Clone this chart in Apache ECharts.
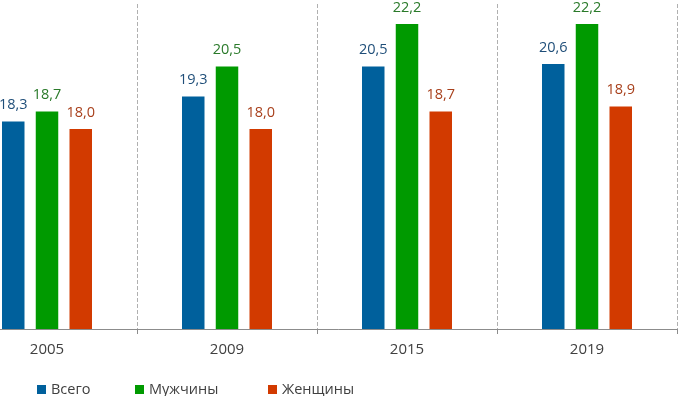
<!DOCTYPE html>
<html>
<head>
<meta charset="utf-8">
<script src="https://cdn.jsdelivr.net/npm/echarts@6/dist/echarts.min.js"></script>
<style>
  html, body { margin: 0; padding: 0; background: #fff; }
  #chart { width: 679px; height: 396px; }
</style>
</head>
<body>
<div id="chart"></div>
<script>
// data
const years = ['2005', '2009', '2015', '2019'];
const total = [18.3, 19.3, 20.5, 20.6];
const men = [18.7, 20.5, 22.2, 22.2];
const women = [18.0, 18.0, 18.7, 18.9];

const seriesNames = ['Всего', 'Мужчины', 'Женщины'];
const barColors = ['#00609c', '#009a00', '#d23a00'];
const labelColors = ['#1f4e79', '#2a7a2a', '#a8401c'];

const font = '"Open Sans", sans-serif';
const myChart = echarts.init(document.getElementById('chart'));

const makeBar = (name, data, i) => ({
    name,
    type: 'bar',
    data,
    barWidth: 22.5,
    barGap: '50%',
    itemStyle: { color: barColors[i] },
    label: {
        show: true,
        position: 'top',
        distance: 9,
        color: labelColors[i],
        fontFamily: font,
        fontSize: 14.5,
        formatter: (p) => p.value.toFixed(1).replace('.', ',')
    }
});

// left edge of each legend item (icon)
const legendLefts = [37, 135, 268];

const option = {
    animation: false,
    // first category is cut off at the left edge, like the original
    grid: { left: -43, right: 2, top: 4, bottom: 67, containLabel: false, outerBoundsMode: 'none' },
    legend: seriesNames.map((n, i) => ({
        data: [n],
        left: legendLefts[i],
        top: 382,
        padding: 0,
        icon: 'rect',
        itemWidth: 9,
        itemHeight: 9,
        itemGap: 5,
        textStyle: { color: '#404040', fontFamily: font, fontSize: 14.5 }
    })),
    xAxis: {
        type: 'category',
        data: years,
        axisLine: { lineStyle: { color: '#8c8c8c' } },
        axisTick: { show: true, length: 5, lineStyle: { color: '#8c8c8c' } },
        axisLabel: { color: '#404040', fontFamily: font, fontSize: 15, margin: 13 },
        splitLine: { show: true, lineStyle: { color: '#b0b0b0', type: 'dashed' } }
    },
    yAxis: {
        type: 'value',
        min: 10,
        max: 23,
        show: false,
        splitLine: { show: false }
    },
    series: [
        makeBar(seriesNames[0], total, 0),
        makeBar(seriesNames[1], men, 1),
        makeBar(seriesNames[2], women, 2)
    ]
};
myChart.setOption(option);
window.addEventListener('resize', () => myChart.resize());
</script>
</body>
</html>
